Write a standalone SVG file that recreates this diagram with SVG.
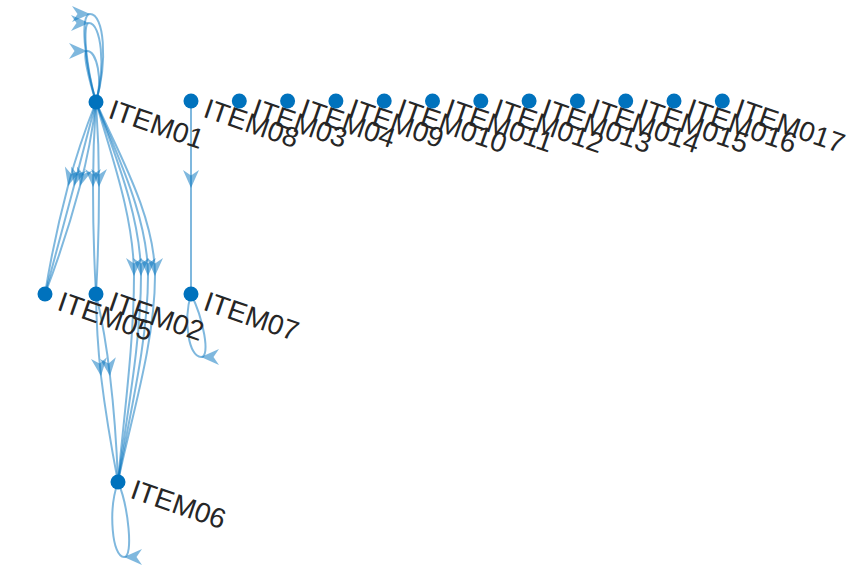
<svg xmlns="http://www.w3.org/2000/svg" width="851" height="570" viewBox="0 0 851 570">
  <style>
    .edge { fill: none; stroke: #0072BD; stroke-opacity: 0.5; stroke-width: 2; marker-mid: url(#arrow); }
    .node circle { fill: #0072BD; }
    .node text { font-family: "Liberation Sans", Arial, sans-serif; font-size: 28px; fill: #262626; }
  </style>
  <defs>
    <marker id="arrow" markerUnits="userSpaceOnUse" orient="auto" overflow="visible" markerWidth="24" markerHeight="24" refX="0" refY="0">
      <path d="M0,0 L-18,-8 L-12.5,0 L-18,8 Z" fill="#0072BD" fill-opacity="0.5"/>
    </marker>
  </defs>
  <rect width="851" height="570" fill="#ffffff"/>

  <!-- connectors: each path is split at the arrow position so marker-mid lands there -->
  <g id="edges">
    <!-- ITEM01 self-loops -->
    <path class="edge" d="M96,102 C84,60 80,14 90,14 C104,14 108,60 96,102"/>
    <path class="edge" d="M96,102 C86,66 82,23 89,23 C101,23 106,66 96,102"/>
    <path class="edge" d="M96,102 C89,80 82,51 87,51 C97,51 103,80 96,102"/>
    <!-- ITEM01 -> ITEM05 -->
    <path class="edge" d="M96,102 Q78.8,145.4 68,186 Q53.6,240.1 45,294"/>
    <path class="edge" d="M96,102 Q84.8,145.4 74,186 Q59.6,240.1 45,294"/>
    <path class="edge" d="M96,102 Q90.8,145.4 80,186 Q65.6,240.1 45,294"/>
    <!-- ITEM01 -> ITEM02 -->
    <path class="edge" d="M96,102 Q93,145 93,187 Q93,241 96,294"/>
    <path class="edge" d="M96,102 Q99,145 99,187 Q99,241 96,294"/>
    <!-- ITEM01 -> ITEM06 -->
    <path class="edge" d="M96,102 C109.3,150 134,215 134,276 C134,345 122.8,425 118,482"/>
    <path class="edge" d="M96,102 C112.9,150 141,215 141,276 C141,345 124.9,425 118,482"/>
    <path class="edge" d="M96,102 C114.2,150 148,215 148,276 C148,345 127,425 118,482"/>
    <path class="edge" d="M96,102 C116.7,150 155,215 155,276 C155,345 129.1,425 118,482"/>
    <!-- ITEM02 -> ITEM06 -->
    <path class="edge" d="M96,294 Q96.4,334.3 101,376 Q106.8,423.7 118,482"/>
    <path class="edge" d="M96,294 Q105.4,334.3 110,376 Q115.8,423.7 118,482"/>
    <!-- ITEM08 -> ITEM07 -->
    <path class="edge" d="M191,101 L191,188 L191,294"/>
    <!-- ITEM07 self-loop -->
    <path class="edge" d="M191,294 C203,318 211,357 201,357 C189,357 183,322 191,294"/>
    <!-- ITEM06 self-loop -->
    <path class="edge" d="M118,482 C128,505 134,557 124,557 C112,557 108,510 118,482"/>
  </g>

  <g id="ITEM01" class="node"><circle cx="96" cy="102" r="7.5"/><text transform="translate(107,117.5) rotate(19)">ITEM01</text></g>
  <g id="ITEM08" class="node"><circle cx="191" cy="101" r="7.5"/><text transform="translate(202,116.5) rotate(19)">ITEM08</text></g>
  <g id="ITEM03" class="node"><circle cx="239.3" cy="101" r="7.5"/><text transform="translate(250.3,116.5) rotate(19)">ITEM03</text></g>
  <g id="ITEM04" class="node"><circle cx="287.6" cy="101" r="7.5"/><text transform="translate(298.6,116.5) rotate(19)">ITEM04</text></g>
  <g id="ITEM09" class="node"><circle cx="335.9" cy="101" r="7.5"/><text transform="translate(346.9,116.5) rotate(19)">ITEM09</text></g>
  <g id="ITEM010" class="node"><circle cx="384.2" cy="101" r="7.5"/><text transform="translate(395.2,116.5) rotate(19)">ITEM010</text></g>
  <g id="ITEM011" class="node"><circle cx="432.5" cy="101" r="7.5"/><text transform="translate(443.5,116.5) rotate(19)">ITEM011</text></g>
  <g id="ITEM012" class="node"><circle cx="480.8" cy="101" r="7.5"/><text transform="translate(491.8,116.5) rotate(19)">ITEM012</text></g>
  <g id="ITEM013" class="node"><circle cx="529.1" cy="101" r="7.5"/><text transform="translate(540.1,116.5) rotate(19)">ITEM013</text></g>
  <g id="ITEM014" class="node"><circle cx="577.4" cy="101" r="7.5"/><text transform="translate(588.4,116.5) rotate(19)">ITEM014</text></g>
  <g id="ITEM015" class="node"><circle cx="625.7" cy="101" r="7.5"/><text transform="translate(636.7,116.5) rotate(19)">ITEM015</text></g>
  <g id="ITEM016" class="node"><circle cx="674" cy="101" r="7.5"/><text transform="translate(685,116.5) rotate(19)">ITEM016</text></g>
  <g id="ITEM017" class="node"><circle cx="722.3" cy="101" r="7.5"/><text transform="translate(733.3,116.5) rotate(19)">ITEM017</text></g>
  <g id="ITEM05" class="node"><circle cx="45" cy="294" r="7.5"/><text transform="translate(56,309.5) rotate(19)">ITEM05</text></g>
  <g id="ITEM02" class="node"><circle cx="96" cy="294" r="7.5"/><text transform="translate(107,309.5) rotate(19)">ITEM02</text></g>
  <g id="ITEM07" class="node"><circle cx="191" cy="294" r="7.5"/><text transform="translate(202,309.5) rotate(19)">ITEM07</text></g>
  <g id="ITEM06" class="node"><circle cx="118" cy="482" r="7.5"/><text transform="translate(129,497.5) rotate(19)">ITEM06</text></g>
</svg>
